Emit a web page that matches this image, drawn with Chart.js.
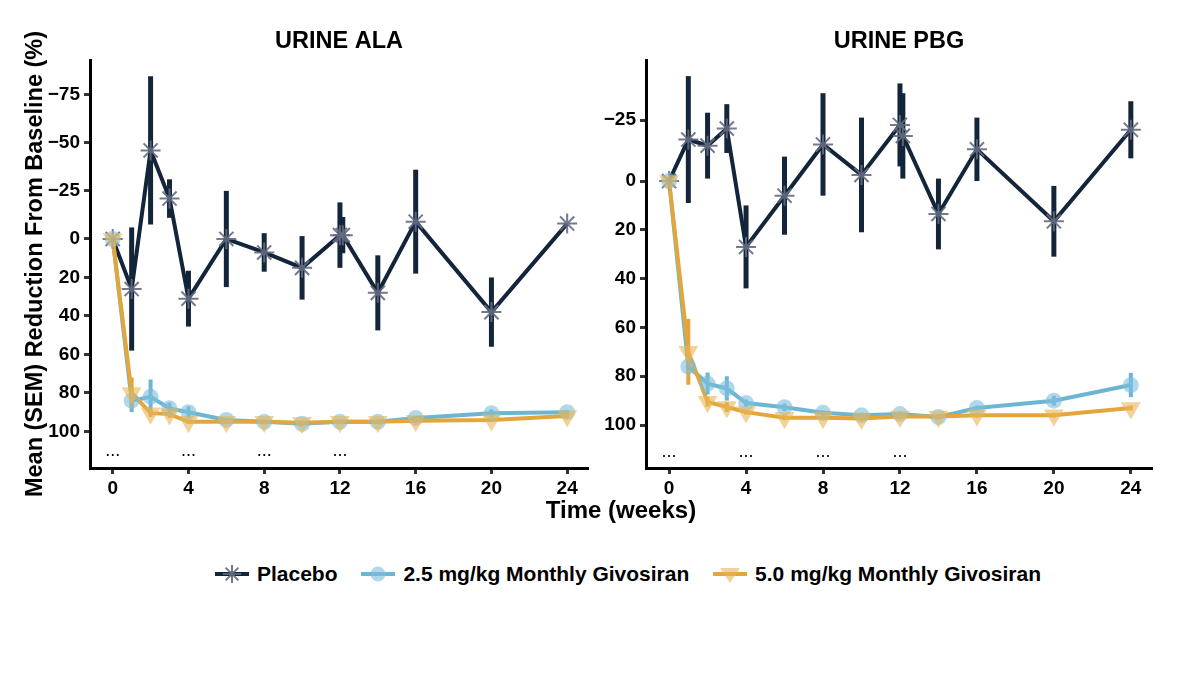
<!DOCTYPE html>
<html>
<head>
<meta charset="utf-8">
<script src="https://cdn.jsdelivr.net/npm/chart.js@4.4.0/dist/chart.umd.min.js"></script>
<style>
  body { margin: 0; background: #fff; width: 1178px; height: 698px; position: relative; overflow: hidden;
         font-family: "Liberation Sans", Arial, sans-serif; }
  #leftBox { position: absolute; left: 0; top: 0; width: 600px; height: 520px; }
  #rightBox { position: absolute; left: 590px; top: 0; width: 588px; height: 520px; }
  #xTitle { position: absolute; left: 471px; top: 496px; width: 300px; text-align: center;
            font-weight: bold; font-size: 24px; color: #000; }
  #legend { position: absolute; left: 128px; top: 562px; width: 1000px; text-align: center;
            font-weight: bold; font-size: 21px; color: #000; white-space: nowrap; }
  #legend span.item { display: inline-block; margin: 0 9px; }
  #legend svg { vertical-align: -3px; margin-right: 8px; }
</style>
</head>
<body>
<div id="leftBox"><canvas id="alaChart" width="600" height="520"></canvas></div>
<div id="rightBox"><canvas id="pbgChart" width="588" height="520"></canvas></div>
<div id="xTitle">Time (weeks)</div>
<div id="legend">
  <span class="item"><svg width="34" height="20"><line x1="0" y1="10" x2="34" y2="10" stroke="#13253a" stroke-width="4"/>
    <g stroke="rgba(95,104,124,0.9)" stroke-width="2"><line x1="8" y1="10" x2="26" y2="10"/><line x1="17" y1="1" x2="17" y2="19"/>
    <line x1="10.6" y1="3.6" x2="23.4" y2="16.4"/><line x1="10.6" y1="16.4" x2="23.4" y2="3.6"/></g></svg>Placebo</span>
  <span class="item"><svg width="34" height="20"><line x1="0" y1="10" x2="34" y2="10" stroke="#6db6d3" stroke-width="4"/>
    <circle cx="17" cy="10" r="7.5" fill="rgba(125,190,220,0.6)"/></svg>2.5 mg/kg Monthly Givosiran</span>
  <span class="item"><svg width="34" height="20"><line x1="0" y1="10" x2="34" y2="10" stroke="#e3a63a" stroke-width="4"/>
    <polygon points="7,4 27,4 17,19" fill="rgba(232,182,86,0.6)"/></svg>5.0 mg/kg Monthly Givosiran</span>
</div>
<script>
// time points (weeks)
var weeks = [0, 1, 2, 3, 4, 6, 8, 10, 12, 14, 16, 20, 24];
var placeboWeeks = [0, 1, 2, 3, 4, 6, 8, 10, 12, 12.15, 14, 16, 20, 24];
var xTicks = [0, 4, 8, 12, 16, 20, 24];
var dotWeeks = [0, 4, 8, 12];

// URINE ALA (% reduction from baseline, mean and SEM)
var alaTicks = [-75, -50, -25, 0, 20, 40, 60, 80, 100];
var alaPlaceboMean = [0, 26, -46, -21, 31, 0, 7, 15, -2, -2, 28, -9, 38, -8];
var alaPlaceboSem = [0, 32, 38.5, 10, 14.5, 25, 10, 16.5, 17, 9.4, 19.5, 27, 18, 0];
var alaLowMean = [0, 84, 82, 88, 90, 94, 95, 96, 95, 95, 93, 90.5, 90];
var alaLowSem = [0, 6, 9, 3, 3, 1, 1, 1, 1, 1, 1, 2, 1];
var alaHighMean = [0, 80, 90.5, 91, 95, 95, 95, 95.5, 95, 95, 94.5, 94, 92];
var alaHighSem = [0, 8, 2, 2, 1, 1, 1, 1, 1, 1, 1, 1, 1];

// URINE PBG
var pbgTicks = [-25, 0, 20, 40, 60, 80, 100];
var pbgPlaceboMean = [0, -17, -14.5, -21.5, 27, 6, -15, -2.5, -23, -18.5, 13.5, -13, 16.5, -21];
var pbgPlaceboSem = [0, 26, 13.5, 10, 17, 16, 21, 23.5, 17, 17.5, 14.5, 13, 14.5, 11.7];
var pbgLowMean = [0, 76, 83, 85, 91, 92.7, 95, 96, 95.5, 96.7, 93, 90, 83.6];
var pbgLowSem = [0, 2, 4.5, 5, 1.5, 1.5, 1, 1, 1, 1, 1, 2, 5];
var pbgHighMean = [0, 70, 90.5, 92.6, 94.7, 97, 97, 97.3, 96.5, 96.5, 96, 96, 93];
var pbgHighSem = [0, 13.5, 2, 2, 1, 1, 1, 1, 1, 1, 1, 1, 1];

var navy = "#13253a";
var blue = "#6db6d3";
var orange = "#e3a63a";
var fontFamily = "'Liberation Sans', Arial, sans-serif";

function pts(xs, ys) {
  return xs.map(function (x, i) { return { x: x, y: ys[i] }; });
}

// draws mean +/- SEM bars after the last line dataset, under the markers
var semBars = {
  id: "semBars",
  afterDatasetDraw: function (chart, args, opts) {
    if (args.index !== 2) return;
    var ctx = chart.ctx, xs = chart.scales.x, ys = chart.scales.y;
    ctx.save();
    opts.series.forEach(function (s) {
      ctx.strokeStyle = s.color;
      ctx.lineWidth = s.width;
      s.x.forEach(function (w, i) {
        if (!s.sem[i]) return;
        var px = xs.getPixelForValue(w);
        ctx.beginPath();
        ctx.moveTo(px, ys.getPixelForValue(s.mean[i] - s.sem[i]));
        ctx.lineTo(px, ys.getPixelForValue(s.mean[i] + s.sem[i]));
        ctx.stroke();
      });
    });
    ctx.restore();
  },
};

// panel title and the small dot markers near the bottom
var panelText = {
  id: "panelText",
  afterDraw: function (chart, args, opts) {
    var ctx = chart.ctx, a = chart.chartArea;
    ctx.save();
    ctx.fillStyle = "#000";
    ctx.textAlign = "center";
    ctx.textBaseline = "middle";
    ctx.font = "bold 23.5px " + fontFamily;
    ctx.fillText(opts.title, (a.left + a.right) / 2, 42);
    ctx.font = "18px " + fontFamily;
    dotWeeks.forEach(function (w) {
      ctx.fillText("...", chart.scales.x.getPixelForValue(w), chart.scales.y.getPixelForValue(opts.dotY) - 4);
    });
    ctx.restore();
  },
};

function makePanel(id, title, yMin, yMax, yTicks, pMean, pSem, lMean, lSem, hMean, hSem, yWidth, showYTitle, padRight) {
  var tickFont = { family: fontFamily, size: 19, weight: "bold" };
  return new Chart(document.getElementById(id), {
    type: "line",
    data: {
      datasets: [
        { data: pts(placeboWeeks, pMean), borderColor: navy, borderWidth: 4, pointRadius: 0, order: 6 },
        { data: pts(weeks, lMean), borderColor: blue, borderWidth: 4, pointRadius: 0, order: 5 },
        { data: pts(weeks, hMean), borderColor: orange, borderWidth: 4, pointRadius: 0, order: 4 },
        { data: pts(placeboWeeks, pMean), showLine: false, pointStyle: "star", pointRadius: 10,
          pointBorderColor: "rgba(100,108,128,0.9)", pointBorderWidth: 2, order: 3 },
        { data: pts(weeks, lMean), showLine: false, pointStyle: "circle", pointRadius: 8,
          pointBackgroundColor: "rgba(125,190,220,0.6)", pointBorderWidth: 0, order: 2 },
        { data: pts(weeks, hMean), showLine: false, pointStyle: "triangle", pointRadius: 11.5, rotation: 180,
          pointBackgroundColor: "rgba(232,182,86,0.6)", pointBorderWidth: 0, order: 1 },
      ],
    },
    options: {
      responsive: false,
      animation: false,
      devicePixelRatio: 1,
      layout: { padding: { top: 60, right: padRight, bottom: 0, left: 0 } },
      plugins: {
        legend: { display: false },
        tooltip: { enabled: false },
        semBars: {
          series: [
            { x: placeboWeeks, mean: pMean, sem: pSem, color: navy, width: 5 },
            { x: weeks, mean: lMean, sem: lSem, color: blue, width: 4 },
            { x: weeks, mean: hMean, sem: hSem, color: orange, width: 4 },
          ],
        },
        panelText: { title: title, dotY: 112.5 },
      },
      scales: {
        x: {
          type: "linear",
          min: -1.2,
          max: 25.1,
          afterBuildTicks: function (s) { s.ticks = xTicks.map(function (v) { return { value: v }; }); },
          afterFit: function (s) { s.height = 52; },
          grid: { drawOnChartArea: false, tickLength: 6, tickWidth: 3, tickColor: "#333" },
          border: { display: true, color: "#000", width: 3 },
          ticks: { color: "#000", font: tickFont, padding: 3, maxRotation: 0 },
        },
        y: {
          type: "linear",
          reverse: true,
          min: yMin,
          max: yMax,
          afterBuildTicks: function (s) { s.ticks = yTicks.map(function (v) { return { value: v }; }); },
          afterFit: function (s) { s.width = yWidth; },
          grid: { drawOnChartArea: false, tickLength: 6, tickWidth: 3, tickColor: "#333" },
          border: { display: true, color: "#000", width: 3 },
          ticks: {
            color: "#000", font: tickFont, padding: 4,
            callback: function (v) { return v < 0 ? "\u2212" + Math.abs(v) : String(v); },
          },
          title: {
            display: showYTitle,
            text: "Mean (SEM) Reduction From Baseline (%)",
            color: "#000",
            font: { family: fontFamily, size: 23.5, weight: "bold" },
            padding: { top: 21, bottom: 0 },
          },
        },
      },
    },
    plugins: [semBars, panelText],
  });
}

makePanel("alaChart", "URINE ALA", -93, 119, alaTicks, alaPlaceboMean, alaPlaceboSem,
  alaLowMean, alaLowSem, alaHighMean, alaHighSem, 90, true, 5);
makePanel("pbgChart", "URINE PBG", -49.6, 117.6, pbgTicks, pbgPlaceboMean, pbgPlaceboSem,
  pbgLowMean, pbgLowSem, pbgHighMean, pbgHighSem, 56, false, 26);
</script>
</body>
</html>
